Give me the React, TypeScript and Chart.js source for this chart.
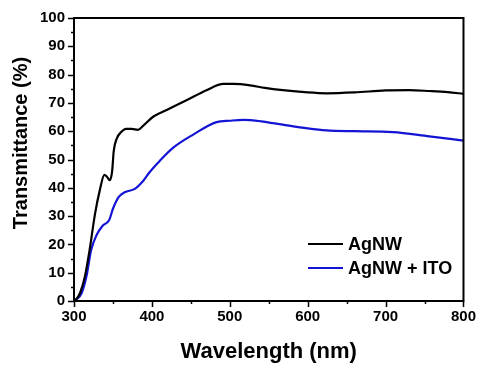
import React, { useEffect, useRef } from "react";
import { Chart, registerables } from "chart.js";

Chart.register(...registerables);

const agnwWavelength = [300, 304, 308, 314, 320, 327, 333, 339, 342, 346, 349, 351, 355, 360, 367, 374, 382, 389, 402, 419, 445, 470, 492, 505, 526, 545, 568, 600, 624, 660, 700, 730, 756, 780, 800];
const agnwValues = [0, 1, 3, 8.7, 18, 30.8, 39, 44.6, 44, 42.7, 46, 53, 57.5, 59.5, 60.8, 60.8, 60.5, 62, 65.2, 67.5, 71, 74.5, 76.7, 76.7, 76.2, 75.3, 74.5, 73.7, 73.4, 73.7, 74.4, 74.5, 74.2, 73.8, 73.2];

const itoWavelength = [300, 303, 310, 316, 322, 329, 337, 345, 350, 357, 365, 378, 389, 397, 410, 427, 453, 483, 500, 517, 540, 568, 600, 624, 660, 709, 756, 800];
const itoValues = [0, 0.5, 2.9, 8.7, 18, 23.3, 26.7, 28.5, 32.6, 36.6, 38.4, 39.6, 42.5, 45.5, 49.5, 54.1, 58.8, 63.2, 63.7, 64, 63.5, 62.3, 61, 60.3, 60, 59.7, 58.2, 56.7];

const seriesLabels = ["AgNW", "AgNW + ITO"];
const seriesColors = ["#000000", "#1414d4"];
const xTitle = "Wavelength (nm)";
const yTitle = "Transmittance (%)";

const FONT = "'Liberation Sans', Arial, sans-serif";

const decorPlugin = {
  id: "decor",
  afterDraw(chart: any) {
    const { ctx, chartArea } = chart;
    const xs = chart.scales.x;
    const ys = chart.scales.y;
    const { left, right, top, bottom } = chartArea;
    ctx.save();
    ctx.strokeStyle = "#000";
    ctx.lineWidth = 2;
    ctx.strokeRect(left, top, right - left, bottom - top);
    ctx.lineWidth = 1.5;
    ctx.beginPath();
    for (let v = 0; v <= 100; v += 5) {
      const p = Math.round(ys.getPixelForValue(v)) + 0.5;
      const len = v % 10 === 0 ? 6 : 3;
      ctx.moveTo(left - len, p);
      ctx.lineTo(left, p);
    }
    for (let v = 300; v <= 800; v += 50) {
      const p = Math.round(xs.getPixelForValue(v)) + 0.5;
      const len = v % 100 === 0 ? 6 : 3;
      ctx.moveTo(p, bottom);
      ctx.lineTo(p, bottom + len);
    }
    ctx.stroke();

    ctx.fillStyle = "#000";
    ctx.textAlign = "center";
    ctx.textBaseline = "middle";
    ctx.font = `bold 22px ${FONT}`;
    ctx.fillText(xTitle, (left + right) / 2, 352);
    ctx.save();
    ctx.translate(21, 143);
    ctx.rotate(-Math.PI / 2);
    ctx.font = `bold 20px ${FONT}`;
    ctx.fillText(yTitle, 0, 0);
    ctx.restore();

    // legend
    ctx.font = `bold 18px ${FONT}`;
    ctx.textAlign = "left";
    chart.data.datasets.forEach((ds: any, i: number) => {
      const y = 244 + i * 24;
      ctx.strokeStyle = ds.borderColor;
      ctx.lineWidth = 2;
      ctx.beginPath();
      ctx.moveTo(308, y);
      ctx.lineTo(343, y);
      ctx.stroke();
      ctx.fillStyle = "#000";
      ctx.fillText(ds.label, 348, y + 1);
    });
    ctx.restore();
  },
};

export default function App() {
  const ref = useRef<HTMLCanvasElement>(null);
  useEffect(() => {
    if (!ref.current) return;
    const toPts = (xs: number[], ys: number[]) => xs.map((x, i) => ({ x, y: ys[i] }));
    const chart = new Chart(ref.current, {
      type: "line",
      data: {
        datasets: [
          {
            label: seriesLabels[0],
            data: toPts(agnwWavelength, agnwValues),
            borderColor: seriesColors[0],
            borderWidth: 2.2,
            pointRadius: 0,
            cubicInterpolationMode: "monotone",
          },
          {
            label: seriesLabels[1],
            data: toPts(itoWavelength, itoValues),
            borderColor: seriesColors[1],
            borderWidth: 2.2,
            pointRadius: 0,
            cubicInterpolationMode: "monotone",
          },
        ],
      },
      options: {
        responsive: false,
        animation: false,
        layout: { padding: { left: 0, top: 15, right: 19, bottom: 0 } },
        plugins: { legend: { display: false }, tooltip: { enabled: false } },
        scales: {
          x: {
            type: "linear",
            min: 300,
            max: 800,
            grid: { display: false, drawTicks: false },
            border: { display: false },
            ticks: {
              stepSize: 100,
              padding: 7,
              color: "#000",
              font: { family: FONT, size: 15, weight: "bold" },
              maxRotation: 0,
            },
            afterFit(scale: any) {
              scale.height = 69;
            },
          },
          y: {
            min: 0,
            max: 100,
            grid: { display: false, drawTicks: false },
            border: { display: false },
            ticks: {
              stepSize: 10,
              padding: 9,
              color: "#000",
              font: { family: FONT, size: 15, weight: "bold" },
            },
            afterFit(scale: any) {
              scale.width = 74;
            },
          },
        },
      },
      plugins: [decorPlugin],
    } as any);
    return () => chart.destroy();
  }, []);
  return (
    <div style={{ position: "absolute", left: 0, top: 0, width: 483, height: 370, background: "#fff" }}>
      <canvas ref={ref} width={483} height={370} />
    </div>
  );
}
